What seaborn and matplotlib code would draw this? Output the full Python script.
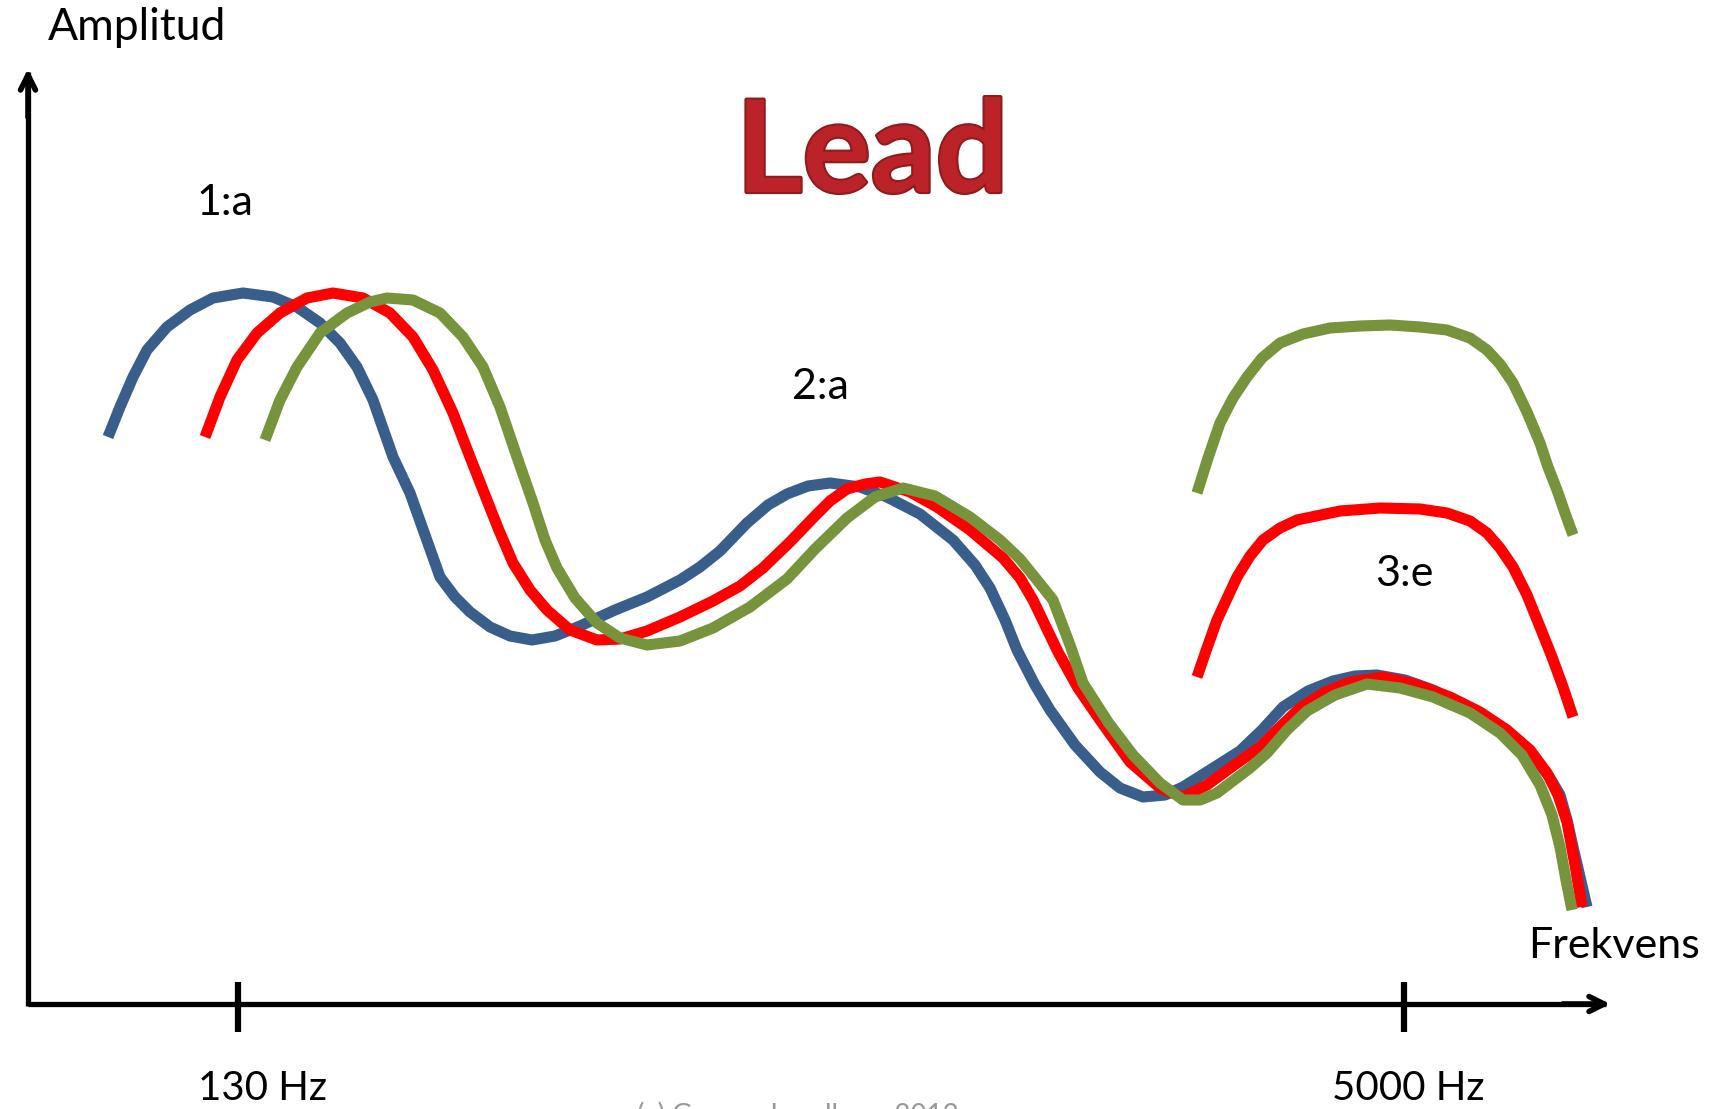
import matplotlib
matplotlib.use("Agg")
import matplotlib.pyplot as plt
import matplotlib.patheffects as pe
import seaborn as sns

# Curves, in picture pixels (x to the right, y downwards)
blue_x = [108, 120, 133, 147, 167, 190, 213, 243, 273, 297, 320, 340, 357, 373, 393, 410, 425, 440, 455, 470,
          490, 510, 532, 555, 580, 615, 647, 680, 700, 720, 747, 768, 787, 808, 830, 860, 887, 920, 953, 975,
          990, 1005, 1017, 1035, 1050, 1075, 1100, 1120, 1143, 1165, 1183, 1210, 1240, 1262, 1283, 1308, 1333,
          1355, 1377, 1405, 1433, 1470, 1500, 1520, 1535, 1550, 1560, 1567, 1573, 1580, 1587]
blue_y = [437, 407, 377, 350, 327, 310, 298, 293, 297, 307, 323, 343, 367, 400, 457, 493, 535, 577, 597, 612,
          627, 636, 640, 636, 626, 610, 597, 580, 567, 551, 523, 505, 494, 486, 483, 487, 497, 514, 540, 565,
          588, 620, 650, 685, 710, 745, 772, 788, 797, 795, 787, 770, 751, 730, 707, 691, 681,
          676, 675, 680, 690, 708, 727, 742, 758, 778, 795, 820, 847, 877, 907]

red_x = [205, 220, 237, 257, 280, 307, 333, 363, 390, 413, 433, 453, 470, 483, 498, 513, 530, 547, 570, 597,
         620, 647, 680, 713, 740, 763, 790, 813, 830, 847, 865, 880, 910, 937, 970, 1003, 1020, 1033, 1045,
         1058, 1078, 1100, 1130, 1160, 1183, 1207, 1233, 1260, 1280, 1300, 1325, 1350, 1383, 1415, 1450, 1480,
         1507, 1530, 1547, 1558, 1567, 1575, 1582]
red_y = [437, 397, 360, 333, 313, 298, 293, 298, 313, 337, 370, 413, 457, 490, 528, 563, 590, 610, 630, 640,
         639, 631, 617, 601, 586, 568, 542, 518, 501, 489, 484, 482, 492, 507, 530, 558, 578, 600, 625,
         652, 688, 720, 762, 788, 797, 785, 766, 747, 727, 708, 692, 682, 677, 684, 697, 712,
         730, 750, 773, 795, 822, 865, 907]

green_x = [265, 280, 297, 320, 347, 370, 387, 413, 440, 463, 483, 500, 517, 533, 545, 557, 575, 597, 620, 647,
           680, 713, 750, 787, 815, 847, 875, 903, 935, 970, 1000, 1020, 1037, 1053, 1070, 1083, 1108, 1133,
           1160, 1183, 1200, 1217, 1250, 1267, 1287, 1307, 1335, 1367, 1400, 1433, 1470, 1500, 1522, 1540,
           1552, 1560, 1566, 1572]
green_y = [440, 400, 367, 333, 313, 302, 298, 300, 313, 337, 367, 407, 457, 503, 540, 568, 598, 623, 638, 645,
           641, 628, 607, 579, 549, 518, 497, 488, 496, 517, 540, 559, 580, 600, 645, 683, 722, 755,
           783, 800, 800, 793, 768, 753, 730, 711, 695, 684, 688, 697, 713, 733, 755, 785,
           815, 847, 880, 910]

# the two extra "e" formants
red_e_x = [1197, 1207, 1217, 1237, 1250, 1263, 1280, 1297, 1340, 1380, 1420, 1447, 1470, 1487, 1500, 1513,
           1527, 1540, 1552, 1563, 1573]
red_e_y = [677, 648, 620, 577, 556, 540, 528, 520, 511, 508, 509, 513, 521, 533, 548, 567,
           595, 627, 657, 687, 717]
green_e_x = [1197, 1208, 1220, 1233, 1247, 1262, 1280, 1303, 1330, 1360, 1390, 1420, 1447, 1470, 1487, 1500,
             1513, 1527, 1540, 1548, 1557, 1565, 1573]
green_e_y = [493, 458, 423, 398, 377, 358, 343, 334, 328, 326, 325, 327, 330, 338, 350, 364,
             383, 412, 443, 467, 490, 513, 535]

tick_x = [238, 1404]
tick_labels = ["130 Hz", "5000 Hz"]
tick_label_x = [263, 1408]

vowel_labels = ["1:a", "2:a", "3:e"]
vowel_x = [225, 820, 1404]
vowel_y = [203, 387, 574]

sns.set_theme(style="white")
plt.rcParams["font.family"] = ["Lato", "DejaVu Sans"]

fig = plt.figure(figsize=(17.2, 11.09), dpi=100)
ax = fig.add_axes([0, 0, 1, 1])
ax.set_xlim(0, 1720)
ax.set_ylim(1109, 0)
ax.axis("off")

# =================================================================
# Formant curves
# =================================================================
blue, red, green = "#3a5e8c", "#ff0000", "#77933c"
for xs, ys, c in [(blue_x, blue_y, blue), (red_x, red_y, red), (green_x, green_y, green),
                  (red_e_x, red_e_y, red), (green_e_x, green_e_y, green)]:
    sns.lineplot(x=xs, y=ys, sort=False, estimator=None, color=c, lw=8, ax=ax,
                 solid_capstyle="butt", solid_joinstyle="round")

# =================================================================
# Axes with arrows and ticks
# =================================================================
ax.plot([28, 1606], [1004, 1004], color="black", lw=3.8, solid_capstyle="butt")
ax.plot([28, 28], [1006, 72], color="black", lw=3.8, solid_capstyle="butt")
ax.annotate("", xy=(1613, 1004), xytext=(1560, 1004),
            arrowprops=dict(arrowstyle="->, head_length=0.9, head_width=0.45", lw=4, color="black"))
ax.annotate("", xy=(28, 66), xytext=(28, 120),
            arrowprops=dict(arrowstyle="->, head_length=0.9, head_width=0.45", lw=4, color="black"))
for tx, lx, lab in zip(tick_x, tick_label_x, tick_labels):
    ax.plot([tx, tx], [982, 1032], color="black", lw=4.5, solid_capstyle="butt")
    ax.text(lx, 1089, lab, fontsize=29, ha="center", va="center", color="black")

ax.text(48, 28, "Amplitud", fontsize=32, ha="left", va="center", color="black")
ax.text(1614, 946, "Frekvens", fontsize=31, ha="center", va="center", color="black")

for lab, vx, vy in zip(vowel_labels, vowel_x, vowel_y):
    ax.text(vx, vy, lab, fontsize=31, ha="center", va="center", color="black")

# =================================================================
# Title and credit line
# =================================================================
ax.text(872, 192, "Lead", fontsize=92, fontweight="bold", ha="center", va="baseline", color="#bb2328",
        path_effects=[pe.withStroke(linewidth=3, foreground="#8e1b1f")])
ax.text(798, 1101, "(c) Gunnar Lundborg 2012", fontsize=20, ha="center", va="top", color="#999999")

plt.savefig("out.png", dpi=100)
